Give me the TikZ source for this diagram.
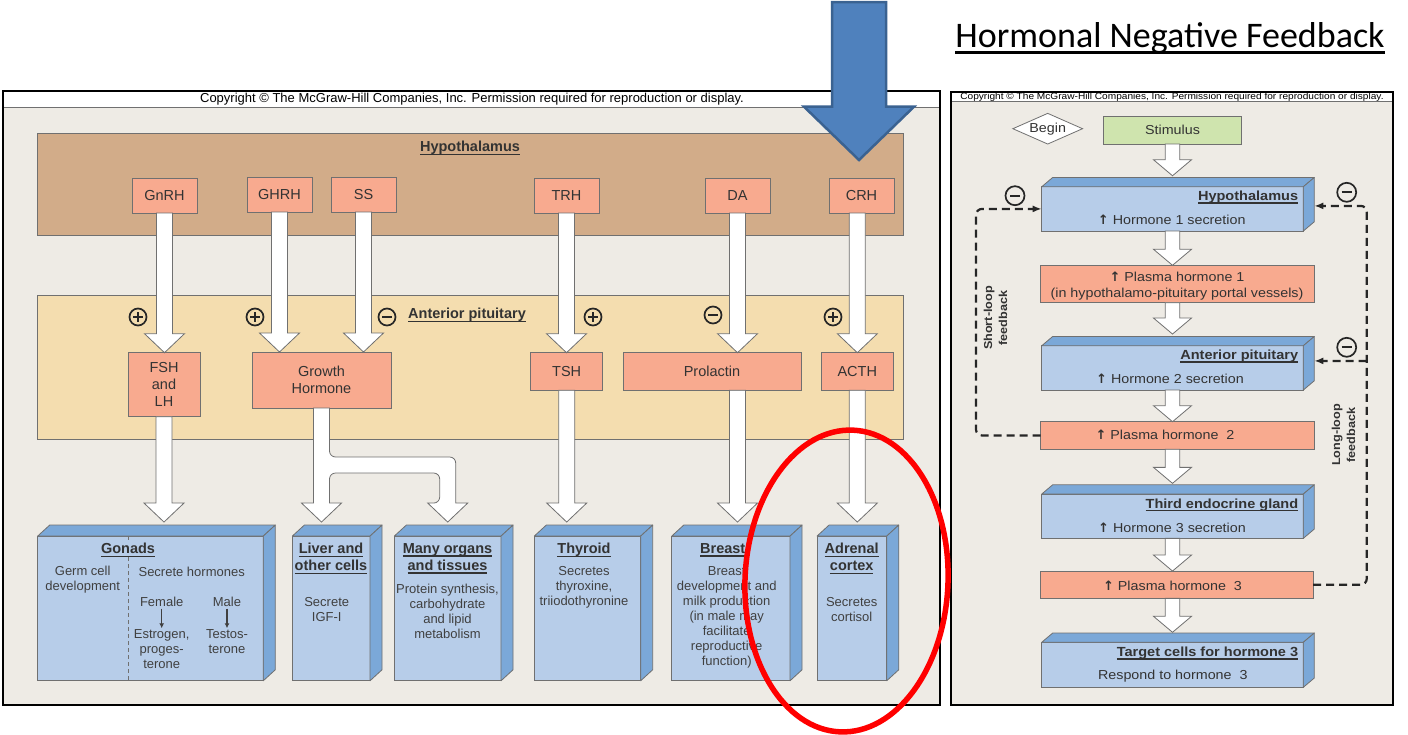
\documentclass[tikz,border=0pt]{standalone}
\usepackage{fontspec}
\setmainfont{Liberation Sans}
\newfontfamily\titlefont{Carlito}
\newfontfamily\rpfont[FakeStretch=1.1]{Liberation Sans}
\newfontfamily\arrowfont{DejaVu Sans}
\usetikzlibrary{calc, positioning, shapes.geometric, arrows.meta}

\definecolor{panelbg}{HTML}{EEEBE5}
\definecolor{hypotan}{HTML}{D2AC89}
\definecolor{pituitan}{HTML}{F4DDAF}
\definecolor{salmon}{HTML}{F8AA8F}
\definecolor{glandfront}{HTML}{B7CDE9}
\definecolor{glandside}{HTML}{7BA8D8}
\definecolor{stimgreen}{HTML}{CFE4AE}
\definecolor{edgegray}{HTML}{707070}
\definecolor{bigblue}{HTML}{4F81BD}
\definecolor{bigblueedge}{HTML}{3A6291}

% underline with a visible rule
\newcommand{\ulbox}[1]{\setbox0\hbox{#1}\rlap{\vrule height -2pt depth 3.3pt width \wd0}\box0}
% rising level
\newcommand{\up}{{\arrowfont\bfseries\fontsize{13}{15}\selectfont ↑}}

% white block arrow between two points (straight down)
\newcommand{\fatshaft}{8pt}
\newcommand{\fathead}{20pt}
\newcommand{\fatlen}{19pt}
\newcommand{\fatarrow}[2]{%
  \draw[fat] let \p1=#1, \p2=#2 in
    (\x1-\fatshaft,\y1) -- (\x1-\fatshaft,\y2+\fatlen) -- (\x1-\fathead,\y2+\fatlen) -- (\x1,\y2)
    -- (\x1+\fathead,\y2+\fatlen) -- (\x1+\fatshaft,\y2+\fatlen) -- (\x1+\fatshaft,\y1) -- cycle;}

% top and side faces of a gland box
\newcommand{\glandfaces}[3]{%
  \filldraw[glandface] (#1.north west) -- ($(#1.north west)+(#2,-#3)$) -- ($(#1.north east)+(#2,-#3)$) -- (#1.north east) -- cycle;
  \filldraw[glandface] (#1.north east) -- ($(#1.north east)+(#2,-#3)$) -- ($(#1.south east)+(#2,-#3)$) -- (#1.south east) -- cycle;}

\tikzset{
  band/.style={draw=edgegray, line width=0.8pt, inner sep=0pt, outer sep=0pt},
  bandtitle/.style={font=\bfseries\fontsize{14.5}{17}\selectfont, text=black!80, inner sep=0pt},
  hormone/.style={draw=edgegray, line width=0.8pt, fill=salmon, align=center, inner sep=0pt, outer sep=0pt,
    text=black!80, font=\fontsize{14.5}{17}\selectfont},
  gland/.style={draw=edgegray, line width=0.8pt, fill=glandfront, inner sep=0pt, outer sep=0pt},
  glandface/.style={draw=edgegray, line width=0.8pt, fill=glandside, line join=round},
  glandtitle/.style={font=\bfseries\fontsize{14.5}{17}\selectfont, text=black!80, align=center, inner sep=0.5pt},
  glandtext/.style={font=\fontsize{13}{15}\selectfont, text=black!75, align=center, inner sep=0pt},
  copytext/.style={font=\fontsize{13}{14}\selectfont, inner sep=0pt},
  fat/.style={draw=edgegray, fill=white, line width=0.8pt, line join=miter},
  signring/.style={circle, draw=black!85, line width=1.7pt, minimum size=17pt, inner sep=0pt},
  excite/.style={signring, path picture={\draw[line width=1.7pt, black!85]
    (path picture bounding box.center) ++(-5,0) -- ++(10,0)
    (path picture bounding box.center) ++(0,-5) -- ++(0,10);}},
  inhibit/.style={signring, path picture={\draw[line width=1.7pt, black!85]
    (path picture bounding box.center) ++(-5,0) -- ++(10,0);}},
  tinyarrow/.style={-{Latex[length=5pt,width=5pt]}, line width=1.3pt, black!75, shorten <=2pt, shorten >=1pt},
  rbox/.style={draw=edgegray, line width=0.8pt, inner sep=0pt, outer sep=0pt},
  rtitle/.style={font=\rpfont\bfseries\fontsize{13.2}{16}\selectfont, text=black!80, inner sep=0pt, anchor=east},
  rtext/.style={font=\rpfont\fontsize{13}{15.5}\selectfont, text=black!80, align=center, inner sep=0pt},
  feedback/.style={dash pattern=on 8pt off 5pt, line width=2.2pt, rounded corners=6pt, black!85,
    -{Latex[length=9pt,width=7pt]}},
}

\begin{document}
\begin{tikzpicture}[x=1pt, y=-1pt]
  \useasboundingbox (0,0) rectangle (1408,734);
  \fill[white] (0,0) rectangle (1408,734);

  % ---------- left panel: hypothalamic-pituitary axes
  \fill[panelbg] (3,91) rectangle (940,705);
  \fill[white] (3,91) rectangle (940,107);
  \draw[edgegray, line width=0.8pt] (3,107) -- (940,107);
  \draw[line width=2pt] (3,91) rectangle (940,705);
  \node[copytext] (copyL) at (472,99.5) {Copyright \textcopyright\ The McGraw-Hill Companies, Inc. Permission required for reproduction or display.};

  \node[band, fill=hypotan, minimum width=866pt, minimum height=102pt] (hypoband) at (470,184) {};
  \node[band, fill=pituitan, minimum width=866pt, minimum height=143.3pt] (pitband) at (470,367.4) {};
  \node[bandtitle] (hypotitle) at (470,148) {\ulbox{Hypothalamus}};
  \node[bandtitle, anchor=west] (pittitle) at (408,315) {\ulbox{Anterior pituitary}};

  \node[hormone, minimum width=65pt, minimum height=35pt] (gnrh) at (164.5,195.5) {GnRH};
  \node[hormone, minimum width=65pt, minimum height=35pt] (ghrh) at (279.5,194.5) {GHRH};
  \node[hormone, minimum width=65pt, minimum height=35pt] (ss) at (363.5,194.5) {SS};
  \node[hormone, minimum width=65pt, minimum height=35pt] (trh) at (566.5,195.5) {TRH};
  \node[hormone, minimum width=65pt, minimum height=35pt] (da) at (737.5,195.5) {DA};
  \node[hormone, minimum width=65pt, minimum height=35pt] (crh) at (861.5,195.5) {CRH};

  \node[hormone, minimum width=72pt, minimum height=64pt] (fsh) at (164,384.7) {FSH\\and\\LH};
  \node[hormone, minimum width=139pt, minimum height=56pt] (gh) at (321.5,380) {Growth\\Hormone};
  \node[hormone, minimum width=72pt, minimum height=37.6pt] (tsh) at (566.7,371.5) {TSH};
  \node[hormone, minimum width=178pt, minimum height=37.6pt] (prl) at (712,371.5) {Prolactin};
  \node[hormone, minimum width=72pt, minimum height=37.6pt] (acth) at (857.3,371.5) {ACTH};

  \node[gland, minimum width=225.6pt, minimum height=144.7pt] (gonads) at (150.5,608.4) {};
  \node[gland, minimum width=77.7pt, minimum height=144.7pt] (liver) at (331.2,608.4) {};
  \node[gland, minimum width=106.7pt, minimum height=144.7pt] (organs) at (447.7,608.4) {};
  \node[gland, minimum width=106.4pt, minimum height=144.7pt] (thyroid) at (587.5,608.4) {};
  \node[gland, minimum width=118.3pt, minimum height=144.7pt] (breast) at (730.9,608.4) {};
  \node[gland, minimum width=69.7pt, minimum height=144.7pt] (adrenal) at (851.9,608.4) {};
  \foreach \g in {gonads, liver, organs, thyroid, breast, adrenal}
    {\glandfaces{\g}{12}{11}}

  \fatarrow{(gnrh.south)}{(gnrh.south |- fsh.north)}
  \fatarrow{(ghrh.south)}{(ghrh.south |- gh.north)}
  \fatarrow{(ss.south)}{(ss.south |- gh.north)}
  \fatarrow{(trh.south)}{(trh.south |- tsh.north)}
  \fatarrow{(da.south)}{(da.south |- prl.north)}
  \fatarrow{(crh.south -| acth.north)}{(acth.north)}
  \fatarrow{(fsh.south)}{($(fsh.south |- gonads.north)+(0,-14)$)}
  \fatarrow{(tsh.south)}{($(tsh.south |- thyroid.north)+(0,-14)$)}
  \fatarrow{(prl.south -| da.south)}{($(da.south |- breast.north)+(0,-14)$)}
  \fatarrow{(acth.south)}{($(acth.south |- adrenal.north)+(0,-14)$)}
  % growth hormone splits to liver and other tissues
  \draw[fat] let \p1=(gh.south), \p2=($(liver.north)+(0,-14)$), \p3=(organs.north) in
    (\x1-8pt,\y1) -- (\x1-8pt,\y2+19pt) -- (\x1-20pt,\y2+19pt) -- (\x1,\y2) -- (\x1+20pt,\y2+19pt)
    -- (\x1+8pt,\y2+19pt) [rounded corners=6pt] -- (\x1+8pt,\y1-65pt) -- (\x3-8pt,\y1-65pt)
    -- (\x3-8pt,\y2+19pt) [sharp corners] -- (\x3-20pt,\y2+19pt) -- (\x3,\y2) -- (\x3+20pt,\y2+19pt)
    -- (\x3+8pt,\y2+19pt) [rounded corners=6pt] -- (\x3+8pt,\y1-49pt) -- (\x1+8pt,\y1-49pt)
    [sharp corners] -- (\x1+8pt,\y1) -- cycle;

  \node[excite] (s1) at (138,317) {};
  \node[excite] (s2) at (255,317) {};
  \node[inhibit] (s3) at (387,317) {};
  \node[excite] (s4) at (593,317) {};
  \node[inhibit] (s5) at (713,315) {};
  \node[excite] (s6) at (833,317) {};

  % gland texts
  \draw[edgegray, dash pattern=on 4pt off 3pt, line width=0.8pt] ($(gonads.north west)+(90.6,0)$) -- ($(gonads.south west)+(90.6,0)$);
  \node[glandtitle, fill=glandfront] (gonadsT) at (128,550) {\ulbox{Gonads}};
  \node[glandtext] (germ) at (82.7,579.5) {Germ cell\\development};
  \node[glandtext] (secr) at (191.7,572) {Secrete hormones};
  \node[glandtext] (female) at (161.7,601.7) {Female};
  \node[glandtext] (male) at (227,601.7) {Male};
  \node[glandtext] (estro) at (161.7,649) {Estrogen,\\proges-\\terone};
  \node[glandtext] (testo) at (227,641.5) {Testos-\\terone};
  \draw[tinyarrow] (female) -- (estro);
  \draw[tinyarrow] (male) -- (testo);

  \node[glandtitle] (liverT) at (331,558.5) {\ulbox{Liver and}\\\ulbox{other cells}};
  \node[glandtext] (liverB) at (326.7,609.5) {Secrete\\IGF-I};
  \node[glandtitle] (organsT) at (447.5,558.5) {\ulbox{Many organs}\\\ulbox{and tissues}};
  \node[glandtext] (organsB) at (447.5,611) {Protein synthesis,\\carbohydrate\\and lipid\\metabolism};
  \node[glandtitle] (thyroidT) at (584,550) {\ulbox{Thyroid}};
  \node[glandtext] (thyroidB) at (584,587) {Secretes\\thyroxine,\\triiodothyronine};
  \node[glandtitle] (breastT) at (722.7,550) {\ulbox{Breast}};
  \node[glandtext] (breastB) at (726.7,617) {Breast\\development and\\milk production\\(in male may\\facilitate\\reproductive\\function)};
  \node[glandtitle] (adrenalT) at (851.7,558.5) {\ulbox{Adrenal}\\\ulbox{cortex}};
  \node[glandtext] (adrenalB) at (851.7,609.5) {Secretes\\cortisol};

  % ---------- right panel: negative feedback loops
  \fill[panelbg] (951,91.7) rectangle (1392.7,705);
  \fill[white] (951,91.7) rectangle (1392.7,101.7);
  \draw[edgegray, line width=0.8pt] (951,101.7) -- (1392.7,101.7);
  \draw[line width=2pt] (951,91.7) rectangle (1392.7,705);
  \node[copytext, font=\rpfont\fontsize{9.2}{10}\selectfont] (copyR) at (1172,97.2) {Copyright \textcopyright\ The McGraw-Hill Companies, Inc. Permission required for reproduction or display.};

  \node[diamond, draw=edgegray, line width=0.8pt, fill=white, aspect=2.3, minimum width=70pt, minimum height=31pt,
    inner sep=0pt, font=\rpfont\fontsize{13}{15}\selectfont, text=black!80] (begin) at (1047.7,128.7) {Begin};
  \node[rbox, fill=stimgreen, minimum width=138.4pt, minimum height=28pt, font=\rpfont\fontsize{13}{15}\selectfont,
    text=black!80] (stim) at (1172.5,130) {Stimulus};

  \node[rbox, fill=glandfront, minimum width=261.6pt, minimum height=44.3pt] (hy2) at (1172.5,208.9) {};
  \node[rbox, fill=salmon, minimum width=273.6pt, minimum height=37.4pt] (pl1) at (1177.5,284) {};
  \node[rbox, fill=glandfront, minimum width=261.6pt, minimum height=44.3pt] (ap2) at (1172.5,367.9) {};
  \node[rbox, fill=salmon, minimum width=273.6pt, minimum height=27.6pt] (pl2) at (1177.5,435.5) {};
  \node[rbox, fill=glandfront, minimum width=261.6pt, minimum height=44.3pt] (te3) at (1172.5,516.2) {};
  \node[rbox, fill=salmon, minimum width=272.3pt, minimum height=27.3pt] (pl3) at (1176.9,584.7) {};
  \node[rbox, fill=glandfront, minimum width=261.6pt, minimum height=45pt] (tc3) at (1172.5,664.8) {};
  \foreach \g in {hy2, ap2, te3, tc3}
    {\glandfaces{\g}{11}{9.3}}

  \begin{scope}
    \renewcommand{\fatshaft}{7.3pt}
    \renewcommand{\fathead}{19pt}
    \renewcommand{\fatlen}{16pt}
    \fatarrow{(stim.south)}{($(hy2.north)+(0,-11)$)}
    \fatarrow{(hy2.south)}{(hy2.south |- pl1.north)}
    \fatarrow{(pl1.south -| hy2.south)}{($(ap2.north)+(0,-11.7)$)}
    \fatarrow{(ap2.south)}{(ap2.south |- pl2.north)}
    \fatarrow{(pl2.south -| ap2.south)}{($(te3.north)+(0,-10.7)$)}
    \fatarrow{(te3.south)}{(te3.south |- pl3.north)}
    \fatarrow{(pl3.south -| te3.south)}{($(tc3.north)+(0,-10)$)}
  \end{scope}

  \node[rtitle] (hy2T) at (1298.3,197.3) {\ulbox{Hypothalamus}};
  \node[rtext] (hy2B) at (1171.7,220) {\up\ Hormone 1 secretion};
  \node[rtext] (pl1B) at (1177,286) {\up\ Plasma hormone 1\\(in hypothalamo-pituitary portal vessels)};
  \node[rtitle] (ap2T) at (1298.3,356.3) {\ulbox{Anterior pituitary}};
  \node[rtext] (ap2B) at (1170,378.3) {\up\ Hormone 2 secretion};
  \node[rtext] (pl2B) at (1165,435) {\up\ Plasma hormone\ \ 2};
  \node[rtitle] (te3T) at (1298.3,505) {\ulbox{Third endocrine gland}};
  \node[rtext] (te3B) at (1172,527.7) {\up\ Hormone 3 secretion};
  \node[rtext] (pl3B) at (1172.5,585.3) {\up\ Plasma hormone\ \ 3};
  \node[rtitle] (tc3T) at (1298.3,653.3) {\ulbox{Target cells for hormone 3}};
  \node[rtext] (tc3B) at (1172.8,676) {Respond to hormone\ \ 3};

  % feedback loops
  \draw[feedback] (pl2.west) -- ++(-64.7,0) |- (hy2.west);
  \draw[feedback] (pl3.east) -- ++(53.7,0) |- ($(hy2.east)+(11,-3)$);
  \coordinate (longbranch) at (1366.7,361);
  \draw[feedback] (longbranch) -- ($(ap2.east)+(11,-7)$);
  \node[inhibit, minimum size=19pt] (m1) at (1015,195.7) {};
  \node[inhibit, minimum size=19pt] (m2) at (1346.7,192.3) {};
  \node[inhibit, minimum size=19pt] (m3) at (1346.7,347.3) {};
  \node[rtext, rotate=90, font=\rpfont\bfseries\fontsize{11.5}{15}\selectfont] (shortT) at (995.5,318) {Short-loop\\feedback};
  \node[rtext, rotate=90, font=\rpfont\bfseries\fontsize{11.5}{15}\selectfont] (longT) at (1343.5,435) {Long-loop\\feedback};

  % ---------- annotations
  \node[font=\titlefont\fontsize{36}{40}\selectfont, inner sep=0pt, anchor=base] (title) at (1170,47) {Hormonal Negative Feedback};
  \draw[line width=2.8pt] ($(title.base west)+(0,5.5)$) -- ($(title.base east)+(0,5.5)$);
  \filldraw[fill=bigblue, draw=bigblueedge, line width=2.5pt, line join=miter]
    (832,2) -- (832,106.7) -- (804,106.7) -- (859,160) -- (914,106.7) -- (886,106.7) -- (886,2) -- cycle;
  \draw[red, line width=5.5pt, rotate around={-2.5:(846.5,581)}] (846.5,581) ellipse [x radius=101.5, y radius=151];
\end{tikzpicture}
\end{document}
